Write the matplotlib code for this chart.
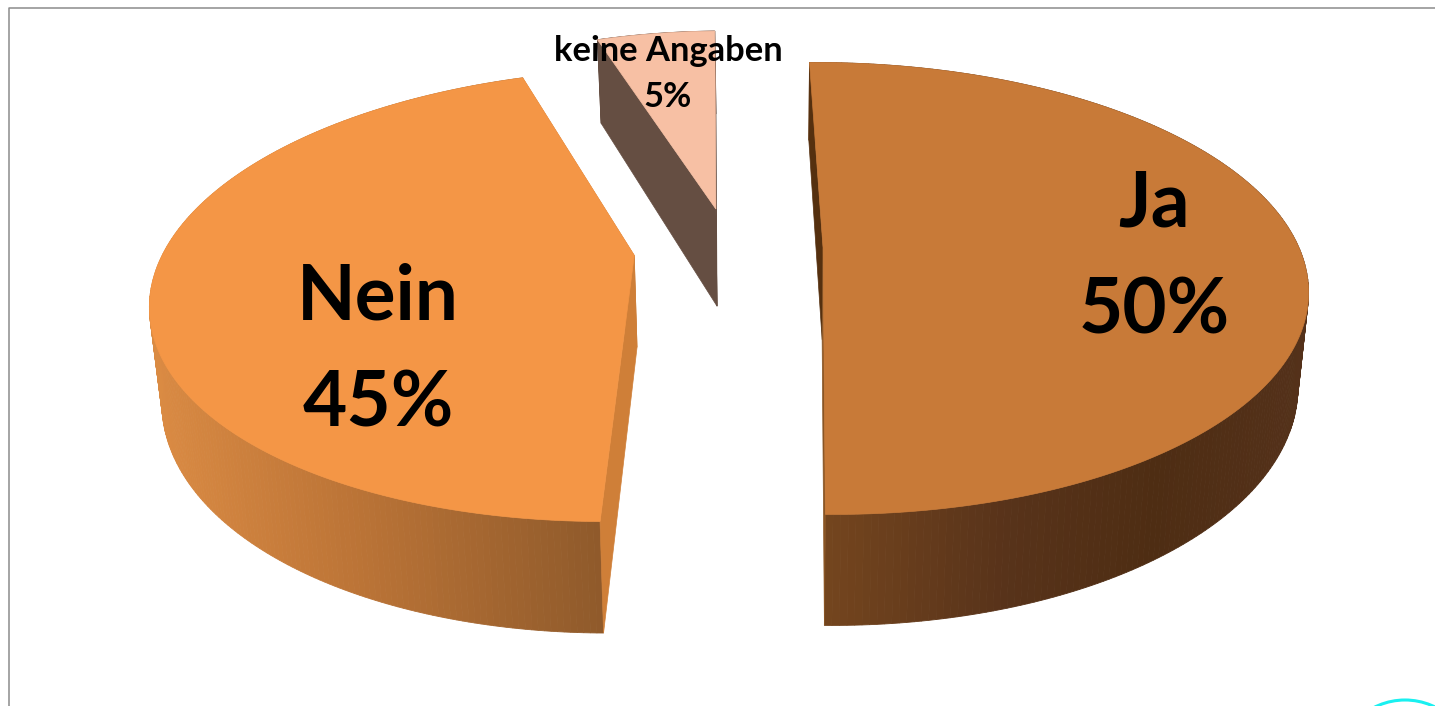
import matplotlib
matplotlib.use('Agg')
import matplotlib.pyplot as plt
from matplotlib.patches import Circle, Polygon
from matplotlib.colors import to_rgb
import numpy as np

# shares in percent, clockwise from 12 o'clock
labels = ['Ja', 'Nein', 'keine Angaben']
shares = [50, 45, 5]

# projection of the pie plane onto the picture
XC, YC = 775, 251
A, B, K = 482, 217.6, 0.176
DEPTH = 91.5
SHRINK = 0.98

# slice look: world offset, small angle/size corrections, top colour, cut faces, wall gradient
looks = {
    'Ja': dict(off=(0.1, 0.012), rot=(0.9, -0.8), scale=(0.99, 1.01), deep=1.0,
               top='#C87A38', first='#55300F', last='#8A5524',
               wall=[(825, '#74451E'), (1000, '#58331A'), (1150, '#4E2D13'), (1300, '#54311A')]),
    'Nein': dict(off=(-0.291, -0.02), rot=(-0.4, 1.0), scale=(0.976, 1.0), deep=1.0,
                 top='#F49646', first='#CF7F38', last='#CF7F38',
                 wall=[(150, '#DC8C44'), (350, '#BD7537'), (604, '#8F5A2B')]),
    'keine Angaben': dict(off=(-0.127, 0.2), rot=(1.5, 1.5), scale=(0.95, 1.03), deep=1.1,
                          top='#F7C0A4', first='#654E42', last='#654E42',
                          wall=[(590, '#654E42'), (720, '#654E42')]),
}


def project(u, v, depth=0):
    s = 1 / (1 + K * v)
    x = XC + A * u * s
    y = YC - B * v * s
    if depth:
        x = XC + (x - XC) * SHRINK
        y = y + depth * s
    return np.array([x, y]).T


def wall_color(stops, x):
    xs = [p[0] for p in stops]
    rgb = np.array([to_rgb(p[1]) for p in stops])
    return [np.interp(x, xs, rgb[:, i]) for i in range(3)]


def draw_slice(ax, name, start, end):
    look = looks[name]
    ox, oy = look['off']
    sx, sy = look['scale']
    depth = DEPTH * look['deep']
    t = np.radians(np.linspace(start + look['rot'][0], end + look['rot'][1], 240))
    u = ox + sx * np.cos(t)
    v = oy + sy * np.sin(t)
    upper = project(u, v)
    under = project(u, v, depth)
    apex = project(ox, oy)
    apex_low = project(ox, oy, depth)

    # outer wall, small quads so the colour can run along x
    for i in range(len(t) - 1):
        quad = [upper[i], upper[i + 1], under[i + 1], under[i]]
        col = wall_color(look['wall'], (under[i][0] + under[i + 1][0]) / 2)
        ax.add_patch(Polygon(quad, closed=True, fc=col, ec=col, lw=0.6, zorder=2))

    # the two cut faces
    ax.add_patch(Polygon([upper[0], apex, apex_low, under[0]], closed=True,
                         fc=look['first'], ec=look['first'], lw=0.5, zorder=3))
    ax.add_patch(Polygon([upper[-1], apex, apex_low, under[-1]], closed=True,
                         fc=look['last'], ec=look['last'], lw=0.5, zorder=3))

    # top
    ax.add_patch(Polygon(np.vstack([apex, upper]), closed=True,
                         fc=look['top'], ec=look['top'], lw=0.5, zorder=4))


fig = plt.figure(figsize=(14.35, 7.06), dpi=100)
ax = fig.add_axes([0, 0, 1, 1])
ax.set_xlim(0, 1435)
ax.set_ylim(706, 0)
ax.axis('off')

# frame of the screenshot and the stray circle bottom right
ax.plot([9, 9, 1435], [706, 8, 8], color='#8C8C8C', lw=1.1, zorder=1)
ax.add_patch(Circle((1405, 768), 68, fc='none', ec='#19F0F0', lw=2.2, zorder=1))

angle = 90
for name, share in zip(labels, shares):
    span = share / 100 * 360
    draw_slice(ax, name, angle, angle - span)
    angle -= span

txt = dict(family='Lato', fontweight='bold', color='black', ha='center', va='center', zorder=6)
ax.text(1154, 258, labels[0] + '\n' + str(shares[0]) + '%', fontsize=55, linespacing=1.65, **txt)
ax.text(378, 351, labels[1] + '\n' + str(shares[1]) + '%', fontsize=55, linespacing=1.65, **txt)
ax.text(668, 74, labels[2] + '\n' + str(shares[2]) + '%', fontsize=24.8, linespacing=1.55, **txt)

fig.savefig('out.png', dpi=100)
